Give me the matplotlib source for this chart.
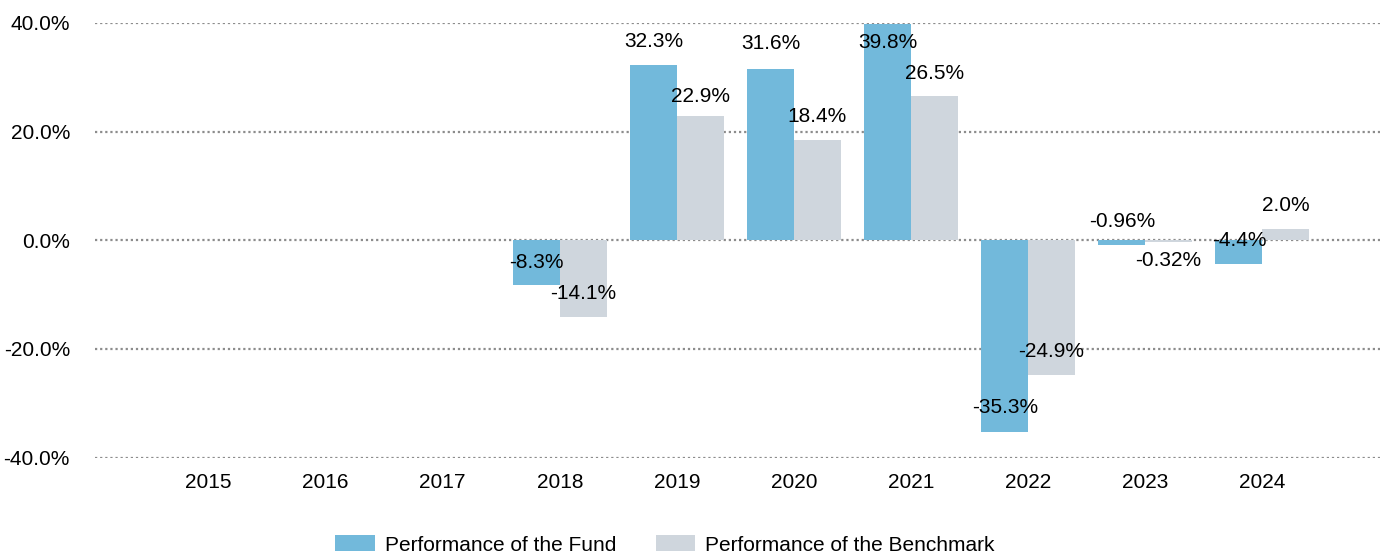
import numpy as np
import matplotlib
matplotlib.use("Agg")
import matplotlib.pyplot as plt

years = ["2015", "2016", "2017", "2018", "2019", "2020", "2021", "2022", "2023", "2024"]
fund = [np.nan, np.nan, np.nan, -8.3, 32.3, 31.6, 39.8, -35.3, -0.96, -4.4]
bench = [np.nan, np.nan, np.nan, -14.1, 22.9, 18.4, 26.5, -24.9, -0.32, 2.0]
fund_labels = ["", "", "", "-8.3%", "32.3%", "31.6%", "39.8%", "-35.3%", "-0.96%", "-4.4%"]
bench_labels = ["", "", "", "-14.1%", "22.9%", "18.4%", "26.5%", "-24.9%", "-0.32%", "2.0%"]
yticks = [-40, -20, 0, 20, 40]

# label vertical offsets (pixels from bar end, positive = up) - style only
fund_dy = [0, 0, 0, 23, 23, 25, -18, 24, 24, 24]
bench_dy = [0, 0, 0, 23, 19, 24, 23, 24, -19, 24]

FUND_C = "#72B9DB"
BENCH_C = "#CFD6DD"
FS = 15

plt.rcParams['font.family'] = ['Liberation Sans', 'DejaVu Sans']

fig = plt.figure(figsize=(13.85, 5.55), dpi=100)
ax = fig.add_axes([95/1385, (555-457.5)/555, 1285/1385, (457.5-23)/555])

x = np.arange(len(years))
w = 0.40
fb = ax.bar(x - w/2, fund, width=w, color=FUND_C, zorder=2, label="Performance of the Fund")
bb = ax.bar(x + w/2, bench, width=w, color=BENCH_C, zorder=2, label="Performance of the Benchmark")

for xi, v, lab, dy in zip(x - w/2, fund, fund_labels, fund_dy):
    if lab:
        ax.annotate(lab, (xi, v), xytext=(0, dy), textcoords='offset pixels',
                    ha='center', va='center', fontsize=FS, color='black', zorder=3)
for xi, v, lab, dy in zip(x + w/2, bench, bench_labels, bench_dy):
    if lab:
        ax.annotate(lab, (xi, v), xytext=(0, dy), textcoords='offset pixels',
                    ha='center', va='center', fontsize=FS, color='black', zorder=3)

ax.set_ylim(-40, 40)
ax.set_xlim(-0.97, 10.005)
ax.set_yticks(yticks)
ax.set_yticklabels([f"{t:.1f}%" for t in yticks], fontsize=FS)
ax.set_xticks(x)
ax.set_xticklabels(years, fontsize=FS)
ax.tick_params(axis='both', length=0)
ax.tick_params(axis='y', pad=18)
ax.tick_params(axis='x', pad=11)
for s in ax.spines.values():
    s.set_visible(False)
ax.yaxis.grid(True, linestyle=(0, (1, 1.3)), color='#8c8c8c', linewidth=1.6, zorder=1)
ax.set_axisbelow(True)

fig.legend(handles=[fb, bb], loc='center', bbox_to_anchor=(665/1385, 1 - 545/555),
           ncol=2, frameon=False, fontsize=FS, handlelength=1.9, handleheight=0.8,
           handletextpad=0.48, columnspacing=1.9)

fig.savefig("out.png", dpi=100)
